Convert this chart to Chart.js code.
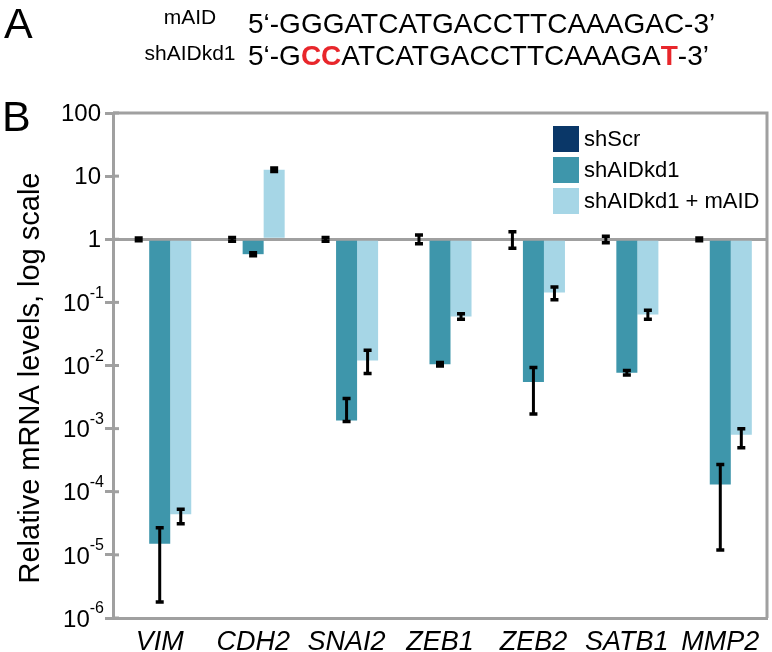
<!DOCTYPE html>
<html>
<head>
<meta charset="utf-8">
<script src="https://cdn.jsdelivr.net/npm/chart.js@4"></script>
<style>
  html, body { margin: 0; padding: 0; background: #fff; }
  #wrap { width: 772px; height: 652px; position: relative; }
</style>
</head>
<body>
<div id="wrap"><canvas id="barChart"></canvas></div>
<script>
// genes on the x axis
var genes = ["VIM", "CDH2", "SNAI2", "ZEB1", "ZEB2", "SATB1", "MMP2"];

// relative mRNA levels
var shScr = [1, 1, 1, 1, 1, 1, 1];
var shScrLow = [0.95, 0.93, 0.93, 0.85, 0.72, 0.88, 0.95];
var shScrHigh = [1.05, 1.07, 1.07, 1.17, 1.32, 1.12, 1.05];

var shAIDkd1 = [1.5e-5, 0.58, 1.35e-3, 0.0105, 0.0055, 0.0077, 1.3e-4];
var shAIDkd1Low = [1.8e-6, 0.55, 1.3e-3, 0.0098, 0.0017, 0.0071, 1.2e-5];
var shAIDkd1High = [2.7e-5, 0.61, 3.0e-3, 0.0112, 0.0093, 0.0083, 2.7e-4];

var shAIDmAID = [4.4e-5, 12.6, 0.012, 0.06, 0.143, 0.064, 8e-4];
var shAIDmAIDLow = [3.1e-5, 11.8, 0.0075, 0.054, 0.11, 0.054, 5e-4];
var shAIDmAIDHigh = [5.3e-5, 13.4, 0.0175, 0.066, 0.175, 0.075, 1e-3];

// decade ticks, exponent of 10
var decades = [2, 1, 0, -1, -2, -3, -4, -5, -6];

var grey = "#a0a0a0";
var font = "'Liberation Sans', Arial, sans-serif";

// error bars, drawn through the y scale
var errorBars = {
  id: "errorBars",
  afterDatasetsDraw: function (chart) {
    var ctx = chart.ctx;
    var y = chart.scales.y;
    chart.data.datasets.forEach(function (ds, di) {
      var meta = chart.getDatasetMeta(di);
      meta.data.forEach(function (bar, i) {
        var lo = y.getPixelForValue(ds.errLow[i]);
        var hi = y.getPixelForValue(ds.errHigh[i]);
        ctx.save();
        ctx.strokeStyle = "#000";
        ctx.lineWidth = 3;
        ctx.beginPath();
        ctx.moveTo(bar.x, lo);
        ctx.lineTo(bar.x, hi);
        ctx.stroke();
        ctx.lineWidth = 3.5;
        ctx.beginPath();
        ctx.moveTo(bar.x - 4, lo);
        ctx.lineTo(bar.x + 4, lo);
        ctx.moveTo(bar.x - 4, hi);
        ctx.lineTo(bar.x + 4, hi);
        ctx.stroke();
        ctx.restore();
      });
    });
  },
};

// frame, tick labels with superscripts, legend, y title and panel A text
var decorations = {
  id: "decorations",
  afterDraw: function (chart) {
    var ctx = chart.ctx;
    var a = chart.chartArea;
    var y = chart.scales.y;
    ctx.save();

    // top and right frame lines
    ctx.strokeStyle = grey;
    ctx.lineWidth = 3;
    ctx.beginPath();
    ctx.moveTo(a.left, a.top);
    ctx.lineTo(a.right, a.top);
    ctx.lineTo(a.right, a.bottom);
    ctx.stroke();

    // tick stubs on the inner side of the axis + labels
    decades.forEach(function (k) {
      var py = y.getPixelForValue(Math.pow(10, k));
      ctx.strokeStyle = grey;
      ctx.lineWidth = 3;
      ctx.beginPath();
      ctx.moveTo(a.left, py);
      ctx.lineTo(a.left + 6, py);
      ctx.stroke();

      ctx.fillStyle = "#000";
      ctx.textBaseline = "middle";
      if (k >= 0) {
        ctx.font = "24px " + font;
        ctx.textAlign = "right";
        ctx.fillText(String(Math.pow(10, k)), 101, py + 1);
      } else {
        var sup = String(k);
        ctx.font = "16px " + font;
        var ws = ctx.measureText(sup).width;
        ctx.textAlign = "left";
        ctx.fillText(sup, 104 - ws, py - 9);
        ctx.font = "24px " + font;
        var wb = ctx.measureText("10").width;
        ctx.fillText("10", 104 - ws - wb, py + 2);
      }
    });

    // legend inside the plot
    chart.data.datasets.forEach(function (ds, i) {
      var top = 126 + i * 31;
      ctx.fillStyle = ds.backgroundColor;
      ctx.fillRect(553, top, 26, 26);
      ctx.fillStyle = "#000";
      ctx.font = "22px " + font;
      ctx.textAlign = "left";
      ctx.textBaseline = "middle";
      ctx.fillText(ds.label, 584, top + 14);
    });

    // y axis title
    ctx.save();
    ctx.translate(31, 378);
    ctx.rotate(-Math.PI / 2);
    ctx.font = "29px " + font;
    ctx.textAlign = "center";
    ctx.textBaseline = "middle";
    ctx.fillStyle = "#000";
    ctx.fillText("Relative mRNA levels, log scale", 0, 0);
    ctx.restore();

    // panel letters
    ctx.fillStyle = "#000";
    ctx.textAlign = "left";
    ctx.textBaseline = "alphabetic";
    ctx.font = "43px " + font;
    ctx.fillText("A", 4, 38);
    ctx.fillText("B", 2, 131);

    // sequence rows
    ctx.font = "21px " + font;
    ctx.textAlign = "center";
    ctx.fillText("mAID", 190, 24);
    ctx.fillText("shAIDkd1", 190, 60);

    function seq(parts, x, base) {
      ctx.textAlign = "left";
      parts.forEach(function (p) {
        ctx.font = (p[1] ? "bold " : "") + "28px " + font;
        ctx.fillStyle = p[1] ? "#e8262b" : "#000";
        ctx.fillText(p[0], x, base);
        x += ctx.measureText(p[0]).width;
      });
    }
    seq([["5\u2018-GGGATCATGACCTTCAAAGAC-3\u2019", false]], 248, 33);
    seq([["5\u2018-G", false], ["CC", true], ["ATCATGACCTTCAAAGA", false], ["T", true], ["-3\u2019", false]], 248, 65);

    ctx.restore();
  },
};

var ctx = document.getElementById("barChart").getContext("2d");
var myChart = new Chart(ctx, {
  type: "bar",
  data: {
    labels: genes,
    datasets: [
      {
        label: "shScr",
        data: shScr,
        errLow: shScrLow,
        errHigh: shScrHigh,
        backgroundColor: "#0a3768",
      },
      {
        label: "shAIDkd1",
        data: shAIDkd1,
        errLow: shAIDkd1Low,
        errHigh: shAIDkd1High,
        backgroundColor: "#3e96ab",
      },
      {
        label: "shAIDkd1 + mAID",
        data: shAIDmAID,
        errLow: shAIDmAIDLow,
        errHigh: shAIDmAIDHigh,
        backgroundColor: "#a6d6e6",
      },
    ],
  },
  options: {
    responsive: true,
    maintainAspectRatio: false,
    animation: false,
    datasets: {
      bar: {
        base: 1,
        categoryPercentage: 0.675,
        barPercentage: 1,
        borderWidth: 0,
      },
    },
    layout: { padding: { top: 113, right: 5, left: 0, bottom: 0 } },
    plugins: {
      legend: { display: false },
      tooltip: { enabled: false },
    },
    scales: {
      x: {
        grid: { display: false },
        border: { display: true, color: grey, width: 3 },
        ticks: {
          color: "#000",
          padding: 0,
          maxRotation: 0,
          autoSkip: false,
          font: { family: font, size: 27, style: "italic" },
        },
        afterFit: function (scale) {
          scale.height = 34;
        },
      },
      y: {
        type: "logarithmic",
        min: 1e-6,
        max: 100,
        afterBuildTicks: function (scale) {
          scale.ticks = decades.map(function (k) {
            return { value: Math.pow(10, k) };
          });
        },
        ticks: { display: false },
        grid: {
          color: function (c) {
            return c.tick && c.tick.value === 1 ? grey : "transparent";
          },
          tickColor: grey,
          tickLength: 8,
          lineWidth: 3,
          tickWidth: 3,
        },
        border: { display: true, color: grey, width: 3 },
        afterFit: function (scale) {
          scale.width = 113;
        },
      },
    },
  },
  plugins: [errorBars, decorations],
});
</script>
</body>
</html>
